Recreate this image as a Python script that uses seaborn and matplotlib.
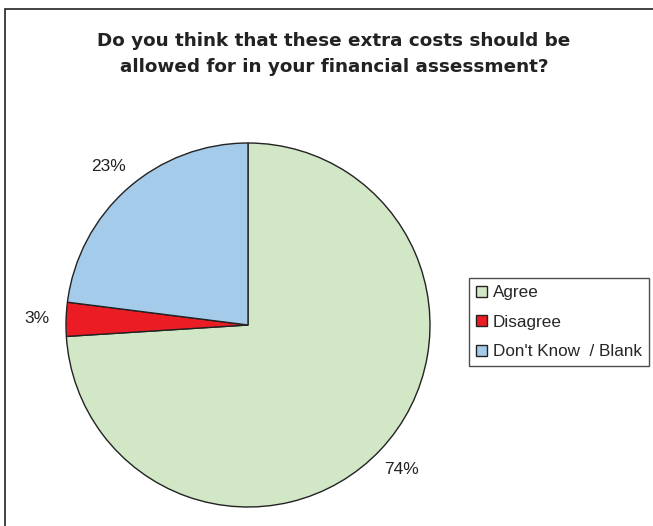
import matplotlib
matplotlib.use("Agg")
import matplotlib.pyplot as plt
import seaborn as sns
from matplotlib.patches import Rectangle

categories = ["Agree", "Disagree", "Don't Know  / Blank"]
values = [74, 3, 23]
colors_hex = ["#D2E7C6", "#EC1C24", "#A5CBEA"]
title = "Do you think that these extra costs should be\nallowed for in your financial assessment?"

sns.set_theme(style="white")
plt.rcParams['font.family'] = ['Liberation Sans', 'DejaVu Sans']

W, H = 653, 526
fig = plt.figure(figsize=(W / 100, H / 100), dpi=100)
fig.patch.set_facecolor("white")

# outer frame
fig.add_artist(Rectangle((5 / W, -0.05), 1.2, 1 - 9 / H + 0.05, transform=fig.transFigure,
                         fill=False, edgecolor="#222222", linewidth=1.2))

cx, cy, r = 248, 325, 182
ax = fig.add_axes([(cx - r) / W, (H - cy - r) / H, 2 * r / W, 2 * r / H])
palette = sns.color_palette(colors_hex)
wedges, texts, autotexts = ax.pie(
    values, colors=palette, startangle=90, counterclock=False,
    autopct=lambda p: f"{p:.0f}%", pctdistance=1.16,
    wedgeprops=dict(edgecolor="#222222", linewidth=1.0),
    textprops=dict(fontsize=12.5, color="#222222"))
ax.set_aspect("equal")
ax.set_xlim(-1, 1)
ax.set_ylim(-1, 1)
ax.axis("off")

fig.text(334 / W, 1 - 54 / H, title, ha="center", va="center", fontsize=13.2,
         fontweight="bold", color="#222222", linespacing=1.62,
         family=['DejaVu Sans'])

leg = fig.legend(wedges, categories, loc="upper left",
                 bbox_to_anchor=(469 / W, 1 - 278 / H), bbox_transform=fig.transFigure,
                 frameon=True, fancybox=False, fontsize=12.3, handlelength=0.62,
                 handleheight=0.62, handletextpad=0.35, labelspacing=0.85,
                 borderpad=0.42, borderaxespad=0)
leg.get_frame().set_edgecolor("#222222")
leg.get_frame().set_linewidth(1.0)
for h in leg.legend_handles:
    h.set_edgecolor("#222222")
    h.set_linewidth(1.0)

fig.savefig("out.png", dpi=100)
